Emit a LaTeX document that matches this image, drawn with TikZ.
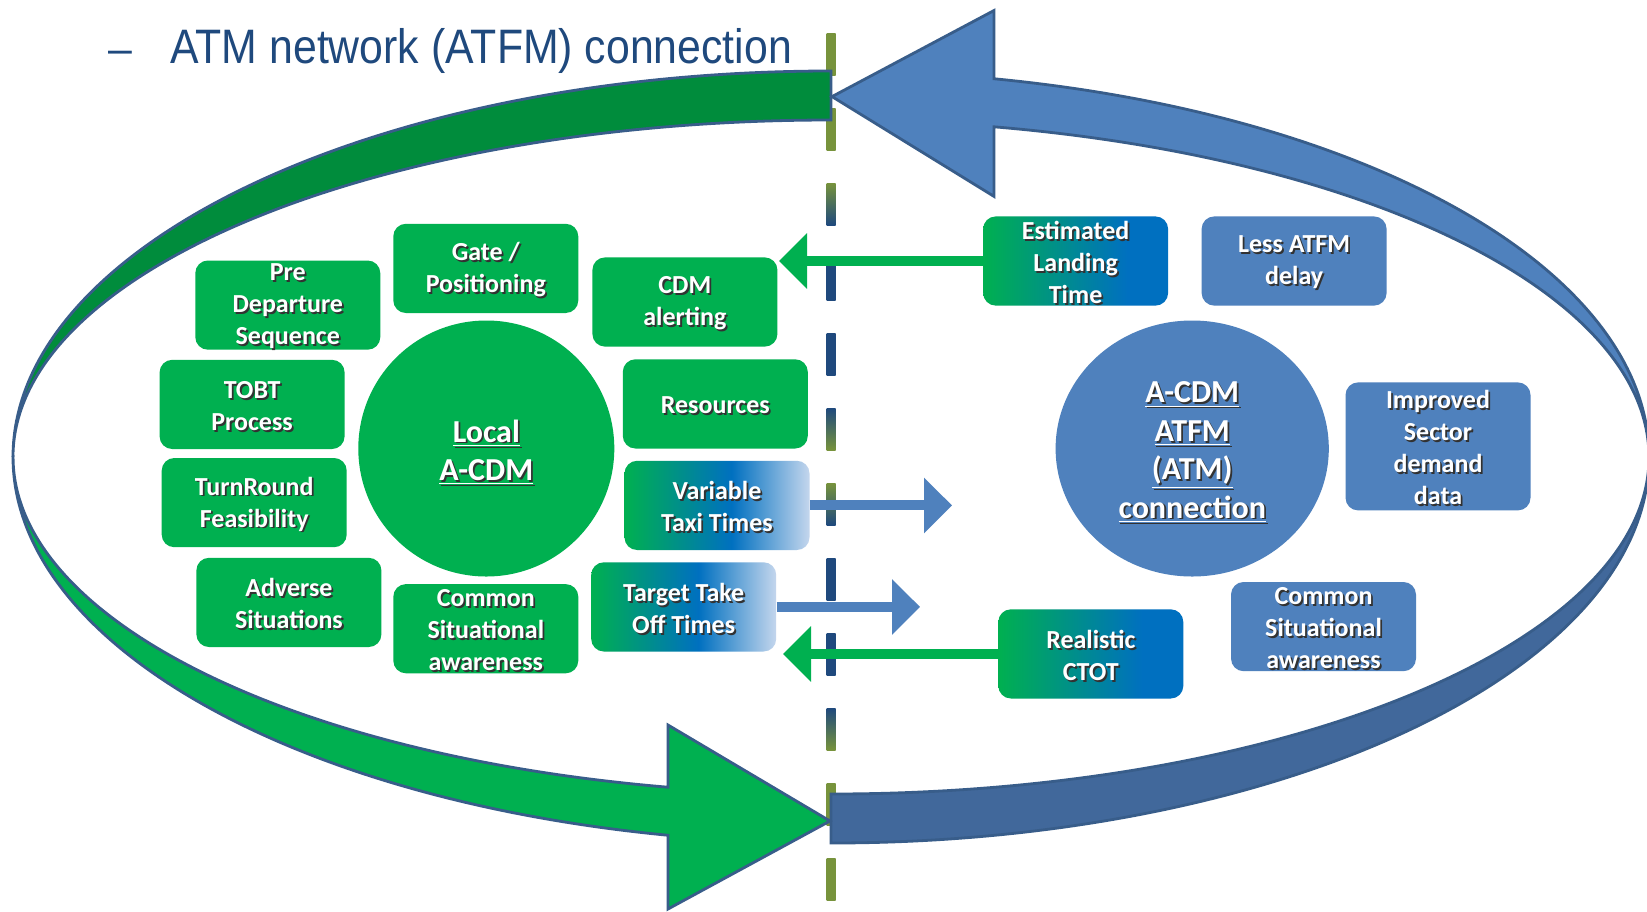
\documentclass[tikz,border=0pt]{standalone}
\usepackage{fontspec}
\usetikzlibrary{arrows.meta,shapes.geometric}
\newfontfamily\cfont{Carlito}
\newfontfamily\tfont{Liberation Sans}

\definecolor{gGreen}{RGB}{0,176,80}
\definecolor{dGreen}{RGB}{0,140,60}
\definecolor{bBlue}{RGB}{79,129,189}
\definecolor{dBlue}{RGB}{65,104,155}
\definecolor{edge}{RGB}{56,93,138}
\definecolor{olive}{RGB}{119,147,60}
\definecolor{navy}{RGB}{31,73,125}
\definecolor{gradBlue}{RGB}{0,112,192}
\definecolor{paleBlue}{RGB}{196,214,237}
\definecolor{shadowc}{RGB}{50,50,50}

% green -> blue -> pale (horizontal)
\pgfdeclarehorizontalshading{gbp}{100bp}{color(0bp)=(gGreen); color(25bp)=(gGreen); color(54bp)=(gradBlue); color(75bp)=(paleBlue); color(100bp)=(paleBlue)}
% green -> blue (horizontal)
\pgfdeclarehorizontalshading{gb}{100bp}{color(0bp)=(gGreen); color(25bp)=(gGreen); color(64bp)=(gradBlue); color(75bp)=(gradBlue); color(100bp)=(gradBlue)}

% white text with a soft drop shadow, inked slightly below its nominal line
\newlength\textdrop
\setlength\textdrop{1.2pt}
\newcommand\sh[1]{\raisebox{-\textdrop}[\height][\depth]{\rlap{\hspace{0.9pt}\raisebox{-0.9pt}{\color{shadowc}#1}}#1}}

\tikzset{
  box/.style={rectangle, rounded corners=6.3pt, minimum width=92.5pt, minimum height=44.6pt,
    inner sep=0pt, align=center, text=white, font=\cfont\bfseries\fontsize{13}{16}\selectfont},
  gbox/.style={box, fill=gGreen},
  bbox/.style={box, fill=bBlue},
  fadebox/.style={box, shade, shading=gbp},
  mixbox/.style={box, shade, shading=gb},
  disc/.style={ellipse, inner sep=0pt, align=center, text=white,
    font=\cfont\bfseries\fontsize{16}{19.2}\selectfont\setlength\textdrop{2.3pt}},
  flow/.style={line width=5pt, -{Triangle[length=14pt,width=27pt]}},
  band/.style={draw=edge, line width=1.4pt, line join=miter},
}

\begin{document}
\begin{tikzpicture}[x=0.5pt,y=-0.5pt]
\useasboundingbox (0,0) rectangle (1647,911);
\fill[white] (0,0) rectangle (1647,911);

% dashed divider
\foreach \k/\ca/\cb in {0/olive/olive,1/olive/olive,2/olive/navy,3/navy/navy,4/navy/navy,5/navy/olive,
                        6/olive/navy,7/navy/navy,8/navy/navy,9/navy/olive,10/olive/olive,11/olive/olive}
  \shade[top color=\ca, bottom color=\cb] (826.5,{33+75*\k}) rectangle (835.5,{75+75*\k});

% back halves of the two curved arrows
\path[band, fill=dBlue] (831,843)
  arc[start angle=90, end angle=0, x radius=818, y radius=386]
  arc[start angle=0, end angle=90, x radius=818, y radius=337] -- cycle;
\path[band, fill=dGreen] (831,71)
  arc[start angle=270, end angle=180, x radius=818, y radius=386]
  arc[start angle=180, end angle=270, x radius=818, y radius=337] -- cycle;

% front halves with arrow heads
\path[band, fill=gGreen] (13,457)
  arc[start angle=180, end angle=101.5, x radius=818, y radius=386]
  -- (668,909) -- (830,821) -- (668,725) -- (668,787.2)
  arc[start angle=101.5, end angle=180, x radius=818, y radius=337] -- cycle;
\path[band, fill=bBlue] (1649,457)
  arc[start angle=0, end angle=-78.5, x radius=818, y radius=386]
  -- (994,10.5) -- (832,96.6) -- (994,196.4) -- (994,126.8)
  arc[start angle=-78.5, end angle=0, x radius=818, y radius=337] -- cycle;

% local A-CDM side
\node[disc, fill=gGreen, minimum width=128pt, minimum height=128pt] (local) at (486.3,448.5)
  {\sh{\underline{Local}}\\\sh{\underline{A-CDM}}};
\node[gbox] (pre)  at (287.8,305.1) {\sh{Pre}\\\sh{Departure}\\\sh{Sequence}};
\node[gbox] (gate) at (485.8,268.4) {\sh{Gate /}\\\sh{Positioning}};
\node[gbox] (alert) at (684.9,302) {\sh{CDM}\\\sh{alerting}};
\node[gbox] (tobt) at (252.1,404.4) {\sh{TOBT}\\\sh{Process}};
\node[gbox] (res)  at (715.3,403.9) {\sh{Resources}};
\node[gbox] (turn) at (254.2,502.6) {\sh{TurnRound}\\\sh{Feasibility}};
\node[fadebox] (taxi) at (717,505.4) {\sh{Variable}\\\sh{Taxi Times}};
\node[gbox] (adv)  at (288.9,602.4) {\sh{Adverse}\\\sh{Situations}};
\node[gbox] (csaL) at (485.8,628.7) {\sh{Common}\\\sh{Situational}\\\sh{awareness}};
\node[fadebox] (ttot) at (683.7,606.9) {\sh{Target Take}\\\sh{Off Times}};

% network side
\node[disc, fill=bBlue, minimum width=136.6pt, minimum height=128pt] (atfm) at (1192.2,448.5)
  {\sh{\underline{A-CDM}}\\\sh{\underline{ATFM}}\\\sh{\underline{(ATM)}}\\\sh{\underline{connection}}};
\node[mixbox] (eldt) at (1075.6,261) {\sh{Estimated}\\\sh{Landing}\\\sh{Time}};
\node[bbox] (less) at (1294.1,261) {\sh{Less ATFM}\\\sh{delay}};
\node[bbox, minimum height=64pt] (sector) at (1438,446.4) {\sh{Improved}\\\sh{Sector}\\\sh{demand}\\\sh{data}};
\node[bbox] (csaR) at (1323.5,626.6) {\sh{Common}\\\sh{Situational}\\\sh{awareness}};
\node[mixbox] (ctot) at (1090.8,653.9) {\sh{Realistic}\\\sh{CTOT}};

% information flows across the divider
\coordinate (eldtTip) at (779,261);
\coordinate (taxiTip) at (952,505.4);
\coordinate (ttotTip) at (920,606.9);
\coordinate (ctotTip) at (783,653.9);
\draw[flow, gGreen] (eldt.west) -- (eldtTip);
\draw[flow, bBlue]  (taxi.east) -- (taxiTip);
\draw[flow, bBlue]  (ttot.east) -- (ttotTip);
\draw[flow, gGreen] (ctot.west) -- (ctotTip);

% heading
\node[anchor=base west, inner sep=0pt, text=navy, font=\tfont\fontsize{21.4}{25}\selectfont] (dash) at (108,63) {–};
\node[anchor=base west, inner sep=0pt, text=navy, font=\tfont\fontsize{21.4}{25}\selectfont] (title) at (170,63)
  {\scalebox{1}[1.13]{ATM network (ATFM) connection}};
\end{tikzpicture}
\end{document}
